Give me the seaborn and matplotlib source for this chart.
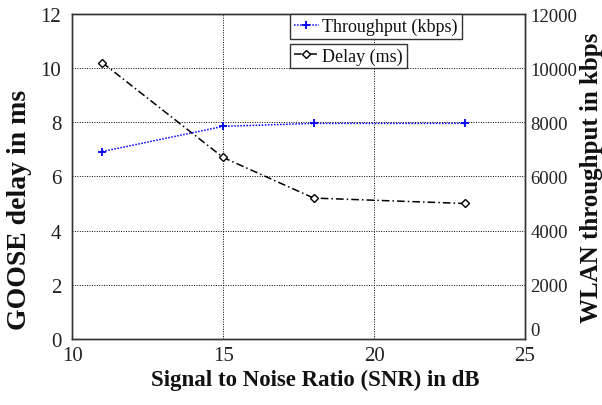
import numpy as np
import pandas as pd
import seaborn as sns
import matplotlib.pyplot as plt

# data
snr = [11, 15, 18, 23]
delay_ms = [10.2, 6.7, 5.2, 5.0]
throughput_kbps = [6920, 7850, 7960, 7960]

df = pd.DataFrame({"snr": snr, "delay": delay_ms, "tput": throughput_kbps})

sns.set_style("white")
plt.rcParams['font.family'] = ['Liberation Serif', 'DejaVu Serif']
plt.rcParams['text.color'] = '#111111'
plt.rcParams['axes.labelcolor'] = '#111111'
plt.rcParams['xtick.color'] = '#222222'
plt.rcParams['ytick.color'] = '#222222'

fig = plt.figure(figsize=(6.02, 4.06), dpi=100)
ax = fig.add_axes([0.12, 0.163, 0.752, 0.8])
ax2 = ax.twinx()

sns.lineplot(data=df, x="snr", y="delay", ax=ax, color="black",
             marker="D", markersize=4, markerfacecolor="white",
             markeredgecolor="black", markeredgewidth=1.0,
             linewidth=1.1, linestyle=(0, (5, 2, 1, 2)),
             label="Delay (ms)")
sns.lineplot(data=df, x="snr", y="tput", ax=ax2, color="blue",
             marker="+", markersize=6, markeredgewidth=1.3,
             markeredgecolor="blue",
             linewidth=1.1, linestyle=(0, (1, 1)),
             label="Throughput (kbps)")

ax.set_xlim(10, 25)
ax.set_ylim(0, 12)
ax2.set_ylim(0, 12000)
ax.set_xticks([10, 15, 20, 25])
ax.set_yticks(range(0, 13, 2))
ax2.set_yticks(range(0, 12001, 2000))
ax.grid(True, color="black", linestyle=(0, (1, 1.5)), linewidth=0.7)
ax2.grid(False)

ax.tick_params(axis="y", labelsize=15, length=0, pad=8)
ax.tick_params(axis="x", labelsize=15, length=0, pad=5)
ax2.tick_params(axis="y", labelsize=13.5, length=0, pad=4)
for a in (ax, ax2):
    for s in a.spines.values():
        s.set_color("#333333")
        s.set_linewidth(1.0)

# lift the right-hand "0" so it clears the "25"
fig.canvas.draw()
ax2.get_yticklabels()[0].set_va("bottom")

ax.set_xlabel("Signal to Noise Ratio (SNR) in dB", fontsize=16.5, fontweight="bold")
ax.xaxis.set_label_coords(0.536, -0.092)
ax.set_ylabel("GOOSE delay in ms", fontsize=20, fontweight="bold", va="center")
ax.yaxis.set_label_coords(-0.117, 0.40)
ax2.set_ylabel("WLAN throughput in kbps", fontsize=18, fontweight="bold",
               va="center", rotation=90)
ax2.yaxis.set_label_coords(1.147, 0.5)

leg2 = ax2.legend(loc="upper left", bbox_to_anchor=(0.481, 1.0), fontsize=13,
                  frameon=True, fancybox=False, edgecolor="#333333",
                  handlelength=1.4, handletextpad=0.2, borderpad=0.2, borderaxespad=0)
leg1 = ax.legend(loc="upper left", bbox_to_anchor=(0.481, 0.908), fontsize=13,
                 frameon=True, fancybox=False, edgecolor="#333333",
                 handlelength=1.4, handletextpad=0.2, borderpad=0.2, borderaxespad=0)
for lg in (leg1, leg2):
    lg.get_frame().set_linewidth(1.0)
    lg.get_frame().set_alpha(1)
ax2.set_zorder(ax.get_zorder() + 1)
ax2.patch.set_visible(False)
ax.patch.set_visible(True)

fig.savefig("out.png", dpi=100)
